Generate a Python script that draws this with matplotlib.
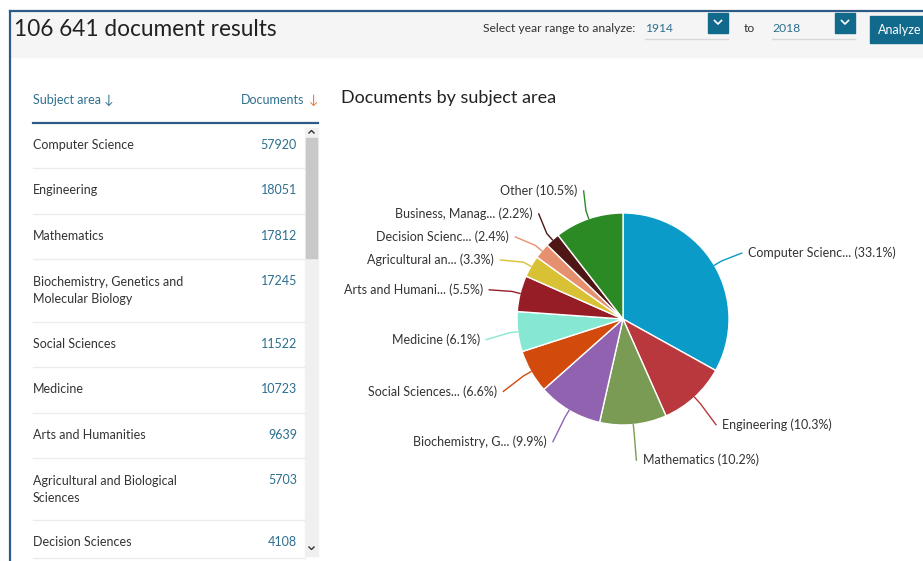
import numpy as np
import matplotlib
matplotlib.use('Agg')
import matplotlib.pyplot as plt
from matplotlib.patches import Rectangle

plt.rcParams['font.family'] = ['Lato', 'DejaVu Sans']

W, H = 923, 561

# table data
subjects = ['Computer Science', 'Engineering', 'Mathematics',
            'Biochemistry, Genetics and\nMolecular Biology', 'Social Sciences',
            'Medicine', 'Arts and Humanities',
            'Agricultural and Biological\nSciences', 'Decision Sciences']
documents = [57920, 18051, 17812, 17245, 11522, 10723, 9639, 5703, 4108]

# pie data
pie_labels = ['Computer Scienc...', 'Engineering', 'Mathematics',
              'Biochemistry, G...', 'Social Sciences...', 'Medicine',
              'Arts and Humani...', 'Agricultural an...', 'Decision Scienc...',
              'Business, Manag...', 'Other']
pie_pct = [33.1, 10.3, 10.2, 9.9, 6.6, 6.1, 5.5, 3.3, 2.4, 2.2, 10.5]
pie_colors = ['#0a9bc9', '#b9383d', '#7a9b53', '#9062b0', '#d24a0c',
              '#86e8d3', '#961d26', '#d9c136', '#e6906f', '#4f1616', '#2b8a24']

txt = '#333333'
teal = '#2d6f8e'
dark = '#2b5b86'

fig = plt.figure(figsize=(W / 100, H / 100), dpi=100)
bg = fig.add_axes([0, 0, 1, 1])
bg.set_xlim(0, W)
bg.set_ylim(H, 0)
bg.axis('off')

# frame and header
bg.add_patch(Rectangle((10, 11), W - 10, 46, color='#f5f5f5', zorder=0))
bg.plot([10, W], [11, 11], color=dark, lw=1.6)
bg.plot([10, 10], [11, H], color=dark, lw=1.6)
bg.text(14, 29, '106 641 document results', fontsize=16.3, color='#222222',
        va='center', ha='left')
bg.text(483, 28, 'Select year range to analyze:', fontsize=8.7, color=txt,
        va='center')
bg.text(744, 28, 'to', fontsize=8.7, color=txt, va='center')
for x0, x1, year in [(645, 708, '1914'), (772, 835, '2018')]:
    bg.text(x0, 28, year, fontsize=8.7, color=teal, va='center')
    bg.plot([x0, x1 + 20], [39, 39], color='#d8d8d8', lw=1)
    bg.add_patch(Rectangle((x1, 13), 20, 20, color='#11698c', zorder=2))
    bg.plot([x1 + 6.5, x1 + 10, x1 + 13.5], [20.5, 24, 20.5], color='white',
            lw=1.2, zorder=3)
bg.add_patch(Rectangle((870, 16), 60, 27, color='#11698c', zorder=2))
bg.text(878, 30, 'Analyze', fontsize=9, color='white', va='center', zorder=3)

# table
bg.text(33, 100, 'Subject area \u2193', fontsize=9, color=teal, va='center')
bg.text(304, 100, 'Documents', fontsize=9, color=teal, va='center', ha='right')
bg.text(318, 100, '\u2193', fontsize=9, color='#e8712d', va='center', ha='right')
bg.plot([33, 318], [123, 123], color=dark, lw=1.6)

row_top = [123, 168, 214, 259, 322, 367, 413, 458, 520]
row_bot = row_top[1:] + [558]
for name, n, y0, y1 in zip(subjects, documents, row_top, row_bot):
    yc = y0 + 22
    if '\n' in name:
        bg.text(33, yc - 5, name, fontsize=9, color=txt, va='top',
                linespacing=1.45)
    else:
        bg.text(33, yc, name, fontsize=9, color=txt, va='center')
    bg.text(297, yc, str(n), fontsize=9, color=teal, va='center', ha='right')
    bg.plot([33, 305], [y1, y1], color='#ececec', lw=1)

# scrollbar
bg.add_patch(Rectangle((305, 128), 13, 428, color='#f0f0f0', zorder=1))
bg.add_patch(Rectangle((306, 138), 11, 120, color='#c8c8c8', zorder=2))
bg.plot([309, 311.5, 314], [133, 130.5, 133], color='#333333', lw=1)
bg.plot([309, 311.5, 314], [547, 549.5, 547], color='#333333', lw=1)

bg.text(341, 98, 'Documents by subject area', fontsize=13, color='#222222',
        va='center')

# pie
cx, cy, R = 623, 319, 106
pax = fig.add_axes([(cx - R) / W, (H - cy - R) / H, 2 * R / W, 2 * R / H])
wedges, _ = pax.pie(pie_pct, colors=pie_colors, startangle=90, counterclock=False,
                    radius=1, wedgeprops=dict(edgecolor='white', linewidth=1))
pax.set_xlim(-1, 1)
pax.set_ylim(-1, 1)
pax.set_aspect('auto')
pax.axis('off')

# label y from the mid angle, x from the label circle, left side spread apart
RL = 1.3
shift = -4 / R
info = []
for w, lab, pct, c in zip(wedges, pie_labels, pie_pct, pie_colors):
    ang = np.deg2rad((w.theta1 + w.theta2) / 2)
    info.append([np.cos(ang), np.sin(ang), np.sin(ang) * RL, lab, pct, c])

gap = 23 / R
left = sorted([i for i in info if i[0] < 0], key=lambda i: i[2])
for _ in range(50):
    for lo, up in zip(left[:-1], left[1:]):
        d = gap - (up[2] - lo[2])
        if d > 0:
            lo[2] -= d / 2
            up[2] += d / 2

for ca, sa, ly, lab, pct, c in info:
    side = 1 if ca > 0 else -1
    lx = side * np.sqrt(max(RL ** 2 - ly ** 2, 0.0))
    ly = ly + shift
    pax.plot([ca, ca * 1.08, lx], [sa, sa * 1.08, ly], color=c, lw=1,
             clip_on=False)
    pax.text(lx + 0.06 * side, ly, '%s (%.1f%%)' % (lab, pct), fontsize=9,
             color=txt, ha='left' if side > 0 else 'right', va='center',
             clip_on=False)

fig.savefig('out.png', dpi=100)
